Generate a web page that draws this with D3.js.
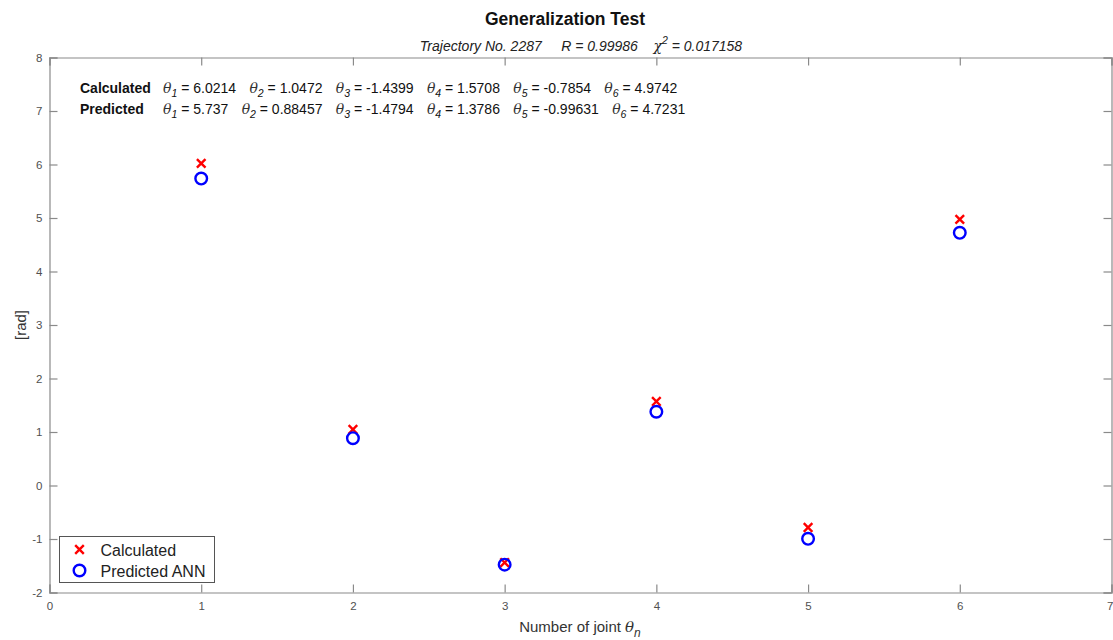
<!DOCTYPE html>
<html>
<head>
<meta charset="utf-8">
<script src="https://cdn.jsdelivr.net/npm/d3@7"></script>
<style>
  html, body { margin: 0; padding: 0; background: #fff; }
  text { font-family: "Liberation Sans", Arial, Helvetica, sans-serif; }
</style>
</head>
<body>
<svg id="chart" width="1113" height="640"></svg>
<script>
// Joint angles in radians
const joints = [1, 2, 3, 4, 5, 6];
const calculated = [6.0214, 1.0472, -1.4399, 1.5708, -0.7854, 4.9742];
const predicted = [5.737, 0.88457, -1.4794, 1.3786, -0.99631, 4.7231];
const calcLabels = ["6.0214", "1.0472", "-1.4399", "1.5708", "-0.7854", "4.9742"];
const predLabels = ["5.737", "0.88457", "-1.4794", "1.3786", "-0.99631", "4.7231"];
const xTicks = [0, 1, 2, 3, 4, 5, 6, 7];
const yTicks = [-2, -1, 0, 1, 2, 3, 4, 5, 6, 7, 8];
const seriesNames = ["Calculated", "Predicted ANN"];

const svg = d3.select("#chart");
const plotLeft = 49.5, plotRight = 1111.5, plotTop = 57.5, plotBottom = 592.5;

const x = d3.scaleLinear().domain([0, 7]).range([plotLeft, plotRight]);
const y = d3.scaleLinear().domain([-2, 8]).range([plotBottom, plotTop]);

const axisColor = "#8a8a8a";
const labelColor = "#505050";
const plain = d => String(d);

// Axes with inward ticks, mirrored on top and right
const gx = svg.append("g").attr("transform", `translate(0,${plotBottom})`)
  .call(d3.axisBottom(x).tickValues(xTicks).tickSize(-8).tickPadding(9).tickFormat(plain));
const gxTop = svg.append("g").attr("transform", `translate(0,${plotTop})`)
  .call(d3.axisTop(x).tickValues(xTicks).tickSize(-8).tickFormat(""));
const gy = svg.append("g").attr("transform", `translate(${plotLeft},0)`)
  .call(d3.axisLeft(y).tickValues(yTicks).tickSize(-8).tickPadding(7).tickFormat(plain));
const gyRight = svg.append("g").attr("transform", `translate(${plotRight},0)`)
  .call(d3.axisRight(y).tickValues(yTicks).tickSize(-8).tickFormat(""));

[gx, gxTop, gy, gyRight].forEach(g => {
  g.select(".domain").attr("stroke", axisColor).attr("stroke-width", 1.2);
  g.selectAll(".tick line").attr("stroke", axisColor).attr("stroke-width", 1.2);
  g.selectAll(".tick text").attr("fill", labelColor).attr("font-size", 11.5)
    .attr("font-family", "Liberation Sans, Arial, sans-serif");
});
// Keep the last x tick label inside the page edge
gx.selectAll(".tick text").filter(d => d === xTicks[xTicks.length - 1])
  .attr("text-anchor", "end").attr("x", 1.5);

// Title and subtitle
svg.append("text").attr("x", 565).attr("y", 25).attr("text-anchor", "middle")
  .attr("font-size", 17.5).attr("font-weight", "bold").attr("fill", "#111")
  .text("Generalization Test");

const sub = svg.append("text").attr("x", 581).attr("y", 51).attr("text-anchor", "middle")
  .attr("font-size", 14).attr("font-style", "italic").attr("fill", "#222");
sub.append("tspan").text("Trajectory No. 2287\u00a0\u00a0\u00a0\u00a0\u00a0R = 0.99986\u00a0\u00a0\u00a0\u00a0");
sub.append("tspan").attr("font-family", "DejaVu Serif, serif").text("\u03c7");
sub.append("tspan").attr("dy", -7).attr("font-size", 10.5).text("2");
sub.append("tspan").attr("dy", 7).text(" = 0.017158");

// Axis labels
svg.append("text").attr("x", 580).attr("y", 632).attr("text-anchor", "middle")
  .attr("font-size", 15).attr("fill", "#333")
  .call(t => {
    t.append("tspan").text("Number of joint ");
    t.append("tspan").attr("font-style", "italic").attr("font-family", "DejaVu Serif, serif").text("\u03b8");
    t.append("tspan").attr("dy", 5).attr("font-size", 12).attr("font-style", "italic").text("n");
  });

svg.append("text").attr("transform", `translate(26,${(plotTop + plotBottom) / 2}) rotate(-90)`)
  .attr("text-anchor", "middle").attr("font-size", 15).attr("fill", "#333").text("[rad]");

// Annotation lines with per-joint values
function annotate(label, values, yPos) {
  const t = svg.append("text").attr("x", 80).attr("y", yPos).attr("font-size", 14).attr("fill", "#111");
  t.append("tspan").attr("font-weight", "bold").text(label);
  values.forEach((v, i) => {
    const th = t.append("tspan").attr("font-style", "italic").attr("font-family", "DejaVu Serif, serif")
      .attr("fill", "#333").text((i ? "\u00a0\u00a0\u00a0" : "") + "\u03b8");
    if (i === 0) th.attr("x", 163);
    t.append("tspan").attr("dy", 4).attr("font-size", 10.5).attr("font-style", "italic").text(i + 1);
    t.append("tspan").attr("dy", -4).text(" = " + v);
  });
}
annotate("Calculated", calcLabels, 93);
annotate("Predicted", predLabels, 114);

// Markers
const xs = 4.3;
const crossPath = `M${-xs},${-xs}L${xs},${xs}M${-xs},${xs}L${xs},${-xs}`;

svg.append("g").selectAll("path").data(joints.map((j, i) => [j, calculated[i]]))
  .join("path")
  .attr("transform", d => `translate(${x(d[0])},${y(d[1])})`)
  .attr("d", crossPath).attr("stroke", "#ff0000").attr("stroke-width", 2.4).attr("fill", "none");

svg.append("g").selectAll("circle").data(joints.map((j, i) => [j, predicted[i]]))
  .join("circle")
  .attr("cx", d => x(d[0])).attr("cy", d => y(d[1])).attr("r", 5.8)
  .attr("fill", "none").attr("stroke", "#0000ff").attr("stroke-width", 2.4);

// Legend
const lg = svg.append("g").attr("transform", "translate(59.5,536.5)");
lg.append("rect").attr("width", 155).attr("height", 46).attr("fill", "#fff")
  .attr("stroke", "#555").attr("stroke-width", 1);
lg.append("path").attr("transform", "translate(20,13)").attr("d", crossPath)
  .attr("stroke", "#ff0000").attr("stroke-width", 2.4).attr("fill", "none");
lg.append("circle").attr("cx", 20).attr("cy", 34).attr("r", 5.8)
  .attr("fill", "none").attr("stroke", "#0000ff").attr("stroke-width", 2.4);
seriesNames.forEach((n, i) => {
  lg.append("text").attr("x", 41).attr("y", 19 + i * 21).attr("font-size", 16)
    .attr("fill", "#222").text(n);
});
</script>
</body>
</html>
